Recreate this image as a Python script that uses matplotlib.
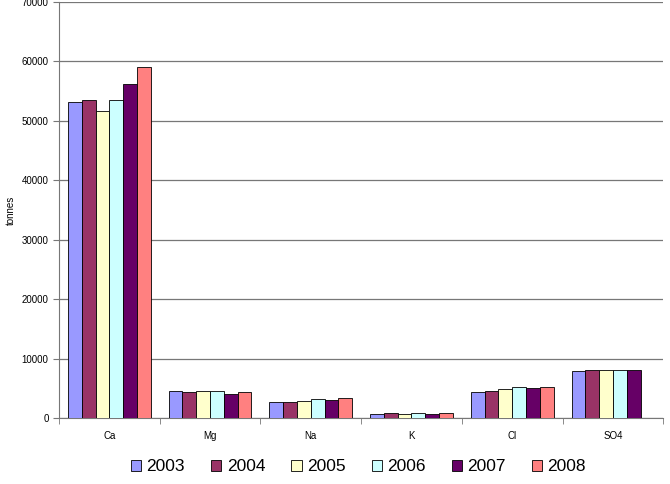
import numpy as np
import matplotlib.pyplot as plt

plt.rcParams['font.family'] = ['Liberation Sans', 'DejaVu Sans']

# ions and yearly loads (tonnes)
ions = ['Ca', 'Mg', 'Na', 'K', 'Cl', 'SO4']
years = ['2003', '2004', '2005', '2006', '2007', '2008']
v2003 = [53160, 4600, 2800, 670, 4320, 7850]
v2004 = [53530, 4440, 2800, 900, 4490, 8070]
v2005 = [51730, 4600, 2970, 730, 4940, 8180]
v2006 = [53530, 4600, 3250, 900, 5280, 8180]
v2007 = [56170, 4030, 3140, 670, 5040, 8070]
v2008 = [59020, 4440, 3420, 900, 5210, np.nan]
series = [v2003, v2004, v2005, v2006, v2007, v2008]
colors = ['#9999FF', '#993366', '#FFFFCC', '#CCFFFF', '#660066', '#FF8080']

fig = plt.figure(figsize=(6.7, 4.84), dpi=100)
ax = fig.add_axes([0.088, 0.136, 0.902, 0.86])

x = np.arange(len(ions))
w = 0.137
for i, (vals, c, yr) in enumerate(zip(series, colors, years)):
    ax.bar(x + (i - 2.5) * w, vals, w, color=c, edgecolor='black',
           linewidth=0.6, label=yr, zorder=3)

ax.set_xlim(-0.5, len(ions) - 0.5)
ax.set_ylim(0, 70000)
ax.set_yticks(np.arange(0, 70001, 10000))
ax.yaxis.grid(True, color='#777777', linewidth=0.9, zorder=0)

ax.set_xticks(x)
ax.set_xticklabels(ions)
ax.set_xticks(np.arange(-0.5, len(ions)), minor=True)
ax.tick_params(axis='x', which='major', length=0, pad=9, labelsize=7)
ax.tick_params(axis='x', which='minor', length=4, color='#777777')
ax.tick_params(axis='y', length=4, color='#777777', labelsize=7)

for s in ['top', 'right']:
    ax.spines[s].set_visible(False)
for s in ['left', 'bottom']:
    ax.spines[s].set_color('#777777')

ax.set_ylabel('tonnes', fontsize=7, labelpad=4)

leg = fig.legend(loc='lower center', ncol=6, bbox_to_anchor=(0.535, -0.012),
                 frameon=False, fontsize=12.5, handlelength=0.6,
                 handleheight=0.6, handletextpad=0.3, columnspacing=1.5)

fig.savefig('out.png', dpi=100)
